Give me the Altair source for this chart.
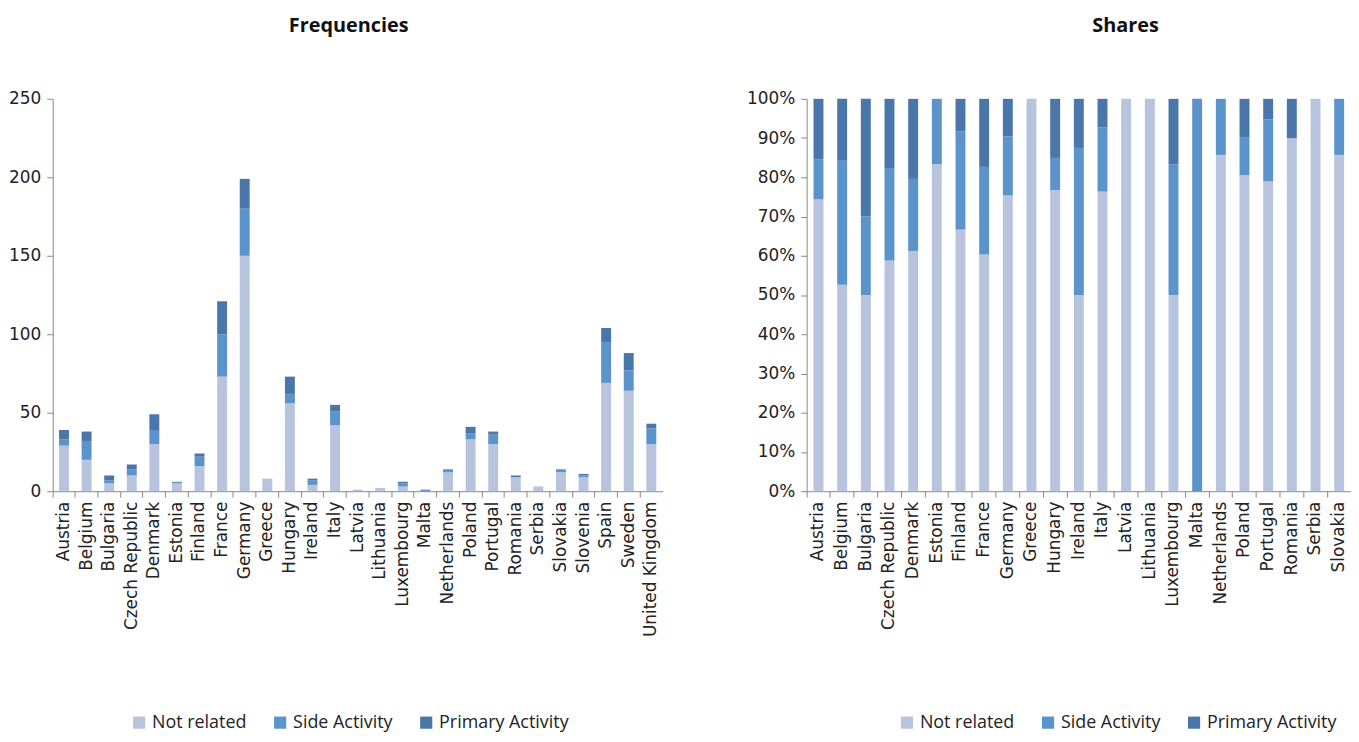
import altair as alt
import pandas as pd

countries = ["Austria", "Belgium", "Bulgaria", "Czech Republic", "Denmark", "Estonia",
             "Finland", "France", "Germany", "Greece", "Hungary", "Ireland", "Italy",
             "Latvia", "Lithuania", "Luxembourg", "Malta", "Netherlands", "Poland",
             "Portugal", "Romania", "Serbia", "Slovakia", "Slovenia", "Spain", "Sweden",
             "United Kingdom"]
not_related = [29, 20, 5, 10, 30, 5, 16, 73, 150, 8, 56, 4, 42, 1, 2, 3, 0, 12, 33, 30, 9, 3, 12, 9, 69, 64, 30]
side_activity = [4, 12, 2, 4, 9, 1, 6, 27, 30, 0, 6, 3, 9, 0, 0, 2, 1, 2, 4, 6, 0, 0, 2, 1, 26, 13, 10]
primary_activity = [6, 6, 3, 3, 10, 0, 2, 21, 19, 0, 11, 1, 4, 0, 0, 1, 0, 0, 4, 2, 1, 0, 0, 1, 9, 11, 3]
share_countries = countries[:23]  # the Shares panel is cut off after Slovakia

categories = ["Not related", "Side Activity", "Primary Activity"]
colors = ["#b8c4de", "#5b93cb", "#4a76aa"]

rows = []
for i, c in enumerate(countries):
    for k, (cat, vals) in enumerate(zip(categories, [not_related, side_activity, primary_activity])):
        rows.append({"country": c, "category": cat, "order": k, "value": vals[i]})
df = pd.DataFrame(rows)
df_share = df[df["country"].isin(share_countries)]

FONT = "Open Sans, sans-serif"
LABEL_FONT = "DejaVu Sans, sans-serif"

color_scale = alt.Scale(domain=categories, range=colors)


def legend(x):
    return alt.Legend(title=None, orient="none", direction="horizontal",
                      legendX=x, legendY=619, symbolType="square", symbolSize=150,
                      symbolStrokeWidth=0, labelFont=FONT, labelFontSize=18,
                      labelColor="#222", columnPadding=24, labelOffset=4, labelLimit=300)


def x_axis():
    return alt.Axis(title=None, labelAngle=-90, labelFont=LABEL_FONT, labelFontSize=17,
                    labelColor="#222", bandPosition=0, tickColor="#888", domainColor="#888",
                    tickSize=6, labelPadding=4, labelLimit=300)


left = alt.Chart(df).mark_bar(size=10).encode(
    x=alt.X("country:N", sort=countries, axis=x_axis(),
            scale=alt.Scale(paddingInner=0, paddingOuter=0)),
    y=alt.Y("value:Q", stack="zero",
            scale=alt.Scale(domain=[0, 250]),
            axis=alt.Axis(title=None, values=[0, 50, 100, 150, 200, 250], grid=False,
                          labelFont=LABEL_FONT, labelFontSize=17, labelColor="#222",
                          tickColor="#888", domainColor="#888", tickSize=6, labelPadding=6)),
    color=alt.Color("category:N", scale=color_scale, sort=categories, legend=legend(78)),
    order=alt.Order("order:Q", sort="ascending"),
).properties(
    width=614, height=395,
    title=alt.TitleParams("Frequencies", font=FONT, fontSize=20, fontWeight="bold",
                          color="#111", offset=54, dx=-9),
)

right = alt.Chart(df_share).mark_bar(size=10).encode(
    x=alt.X("country:N", sort=share_countries, axis=x_axis(),
            scale=alt.Scale(paddingInner=0, paddingOuter=0)),
    y=alt.Y("value:Q", stack="normalize",
            scale=alt.Scale(domain=[0, 1]),
            axis=alt.Axis(title=None, format=".0%", values=[i / 10 for i in range(11)],
                          grid=False, labelFont=LABEL_FONT, labelFontSize=17,
                          labelColor="#222", tickColor="#888", domainColor="#888",
                          tickSize=6, labelPadding=6)),
    color=alt.Color("category:N", scale=color_scale, sort=categories, legend=legend(92)),
    order=alt.Order("order:Q", sort="ascending"),
).properties(
    width=548, height=395,
    title=alt.TitleParams("Shares", font=FONT, fontSize=20, fontWeight="bold",
                          color="#111", offset=54, dx=47),
)

chart = alt.hconcat(left, right, spacing=84).resolve_scale(
    color="independent"
).resolve_legend(color="independent").properties(
    padding={"top": 6, "left": 0, "right": 0, "bottom": 0}
).configure_view(stroke=None)

chart.save("out.html", embed_options={"renderer": "svg", "actions": False})
